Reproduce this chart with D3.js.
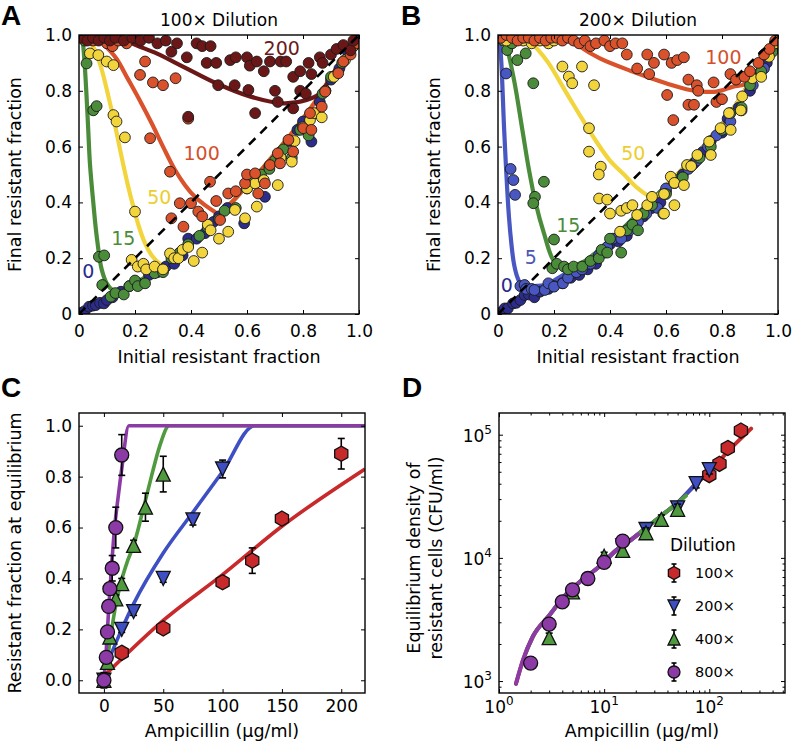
<!DOCTYPE html>
<html><head><meta charset="utf-8">
<script src="https://cdn.jsdelivr.net/npm/d3@7"></script>
<style>body{margin:0;background:#fff}svg{display:block}</style>
</head><body>
<svg id="c" width="793" height="745"></svg>
<script>
// ---------------- DATA ----------------
// Panels A/B ticks
const abTicks=[0,0.2,0.4,0.6,0.8,1.0];
const abTickLabels=["0","0.2","0.4","0.6","0.8","1.0"];
const diag=[[0,0],[1,1]];

// Panel A (100x dilution) scatter: [initial, final]
const aS0=[[0.01,0.005],[0.02,0.01],[0.036,0.026],[0.05,0.03],[0.06,0.032],[0.075,0.04],[0.089,0.038],[0.1,0.05],[0.12,0.06],[0.15,0.08],[0.18,0.1],[0.21,0.11],[0.25,0.14],[0.28,0.15],[0.31,0.17],[0.34,0.18],[0.37,0.21],[0.39,0.27],[0.42,0.27],[0.45,0.29],[0.48,0.33],[0.5,0.35],[0.53,0.38],[0.59,0.325],[0.6,0.47],[0.63,0.49],[0.664,0.42],[0.68,0.53],[0.72,0.58],[0.75,0.62],[0.78,0.66],[0.8,0.69],[0.83,0.618],[0.86,0.76],[0.88,0.8],[0.9,0.84],[0.93,0.88],[0.96,0.94],[0.99,0.98]];
const aS15=[[0.01,0.99],[0.02,0.98],[0.027,0.898],[0.051,0.73],[0.063,0.745],[0.071,0.205],[0.09,0.21],[0.083,0.104],[0.113,0.062],[0.13,0.075],[0.16,0.07],[0.18,0.1],[0.2,0.12],[0.21,0.1],[0.236,0.11],[0.27,0.146],[0.3,0.15],[0.33,0.2],[0.36,0.22],[0.39,0.25],[0.43,0.28],[0.46,0.31],[0.5,0.34],[0.52,0.37],[0.56,0.38],[0.6,0.45],[0.62,0.47],[0.65,0.5],[0.68,0.52],[0.7,0.55],[0.73,0.59],[0.76,0.56],[0.79,0.66],[0.82,0.64],[0.85,0.72],[0.87,0.79],[0.9,0.85],[0.94,0.9],[0.98,0.96]];
const aS50=[[0.02,0.99],[0.039,0.934],[0.069,0.928],[0.099,0.905],[0.123,0.892],[0.123,0.713],[0.134,0.69],[0.164,0.633],[0.2,0.367],[0.188,0.194],[0.21,0.17],[0.23,0.18],[0.24,0.16],[0.27,0.17],[0.3,0.16],[0.325,0.217],[0.34,0.2],[0.355,0.2],[0.37,0.23],[0.39,0.24],[0.41,0.19],[0.44,0.22],[0.46,0.32],[0.47,0.3],[0.5,0.27],[0.533,0.295],[0.557,0.373],[0.593,0.343],[0.6,0.45],[0.629,0.468],[0.635,0.385],[0.66,0.48],[0.71,0.462],[0.72,0.56],[0.76,0.546],[0.77,0.62],[0.8,0.67],[0.825,0.695],[0.84,0.72],[0.867,0.705],[0.88,0.8],[0.91,0.85],[0.95,0.91],[0.98,0.96]];
const aS100=[[0.01,1.0],[0.03,0.99],[0.05,0.98],[0.08,0.99],[0.1,0.97],[0.12,0.96],[0.14,0.98],[0.17,0.97],[0.2,0.99],[0.218,0.857],[0.236,0.905],[0.264,0.83],[0.3,0.82],[0.345,0.845],[0.39,0.7],[0.254,0.63],[0.325,0.51],[0.36,0.397],[0.4,0.397],[0.33,0.343],[0.373,0.313],[0.426,0.367],[0.44,0.35],[0.468,0.474],[0.49,0.405],[0.504,0.337],[0.533,0.432],[0.56,0.44],[0.593,0.468],[0.6,0.5],[0.629,0.504],[0.64,0.432],[0.664,0.468],[0.682,0.534],[0.71,0.576],[0.718,0.54],[0.748,0.624],[0.765,0.582],[0.801,0.666],[0.83,0.66],[0.825,0.72],[0.867,0.743],[0.879,0.797],[0.926,0.863],[0.944,0.905],[0.968,0.946],[0.97,0.93],[0.99,0.97]];
const aS200=[[0.01,0.99],[0.03,0.98],[0.05,0.99],[0.07,0.98],[0.09,0.99],[0.11,0.98],[0.13,0.99],[0.16,0.98],[0.19,0.99],[0.22,0.98],[0.25,0.99],[0.28,0.97],[0.31,0.98],[0.33,0.94],[0.35,0.97],[0.385,0.92],[0.39,0.707],[0.42,0.97],[0.44,0.96],[0.456,0.9],[0.47,0.96],[0.49,0.9],[0.497,0.82],[0.54,0.91],[0.556,0.82],[0.56,0.92],[0.6,0.92],[0.605,0.803],[0.61,0.89],[0.629,0.72],[0.635,0.905],[0.66,0.87],[0.682,0.905],[0.7,0.8],[0.71,0.76],[0.72,0.905],[0.74,0.905],[0.765,0.737],[0.765,0.85],[0.79,0.8],[0.79,0.87],[0.81,0.79],[0.82,0.9],[0.83,0.86],[0.86,0.92],[0.87,0.9],[0.9,0.93],[0.92,0.95],[0.944,0.964],[0.97,0.945],[0.98,0.98]];
// Panel A fitted curves
const aTail=[[0.15,0.08],[0.2,0.11],[0.25,0.14],[0.3,0.175],[0.35,0.215],[0.4,0.26],[0.45,0.305],[0.5,0.355],[0.55,0.405],[0.6,0.46],[0.65,0.515],[0.7,0.575],[0.75,0.635],[0.8,0.7],[0.85,0.77],[0.9,0.85],[0.95,0.925],[1,1]];
const aC15=[[0.012,1],[0.02,0.9],[0.027,0.78],[0.033,0.66],[0.039,0.54],[0.051,0.4],[0.063,0.28],[0.081,0.16],[0.099,0.11],[0.12,0.085],[0.14,0.08]];
const aC50=[[0.025,1],[0.057,0.946],[0.08,0.88],[0.105,0.78],[0.13,0.67],[0.152,0.564],[0.175,0.46],[0.194,0.385],[0.215,0.31],[0.236,0.253],[0.26,0.21],[0.289,0.18]];
const aC100=[[0.07,0.99],[0.1,0.955],[0.134,0.915],[0.176,0.84],[0.22,0.76],[0.26,0.683],[0.3,0.6],[0.343,0.516],[0.38,0.46],[0.414,0.42],[0.45,0.39],[0.486,0.365]];
const aC200=[[0.15,0.995],[0.19,0.97],[0.277,0.934],[0.373,0.886],[0.49,0.827],[0.61,0.78],[0.73,0.755],[0.813,0.767],[0.86,0.79],[0.88,0.815]];
const aLabelText=["0","15","50","100","200"];
const aLabelAt=[[0.033,0.152],[0.158,0.271],[0.287,0.42],[0.438,0.576],[0.724,0.952]];

// Panel B (200x dilution)
const bS0=[[0.01,0.005],[0.024,0.02],[0.035,0.02],[0.054,0.038],[0.065,0.04],[0.08,0.05],[0.095,0.068],[0.11,0.07],[0.13,0.06],[0.15,0.08],[0.18,0.09],[0.2,0.1],[0.23,0.11],[0.26,0.13],[0.29,0.14],[0.32,0.16],[0.35,0.18],[0.38,0.22],[0.4,0.25],[0.43,0.26],[0.46,0.28],[0.49,0.32],[0.52,0.35],[0.55,0.38],[0.58,0.4],[0.6,0.44],[0.63,0.47],[0.66,0.5],[0.7,0.54],[0.73,0.58],[0.76,0.62],[0.8,0.65],[0.82,0.7],[0.86,0.74],[0.9,0.8],[0.93,0.86],[0.96,0.9],[0.99,0.97]];
const bS5=[[0.01,0.99],[0.02,0.98],[0.029,0.862],[0.045,0.52],[0.055,0.48],[0.061,0.427],[0.08,0.1],[0.095,0.104],[0.1,0.09],[0.12,0.09],[0.13,0.086],[0.167,0.086],[0.18,0.11],[0.2,0.098],[0.232,0.11],[0.25,0.13],[0.28,0.15],[0.3,0.16],[0.33,0.18],[0.36,0.21],[0.39,0.24],[0.41,0.27],[0.44,0.27],[0.47,0.3],[0.5,0.33],[0.53,0.36],[0.57,0.38],[0.6,0.45],[0.64,0.48],[0.68,0.52],[0.71,0.55],[0.75,0.6],[0.78,0.64],[0.83,0.69],[0.87,0.73],[0.91,0.82],[0.95,0.88],[0.98,0.95]];
const bS15=[[0.01,0.99],[0.02,0.98],[0.033,0.946],[0.05,0.97],[0.069,0.91],[0.099,0.934],[0.126,0.827],[0.164,0.474],[0.132,0.42],[0.126,0.397],[0.2,0.267],[0.194,0.164],[0.21,0.18],[0.236,0.17],[0.25,0.16],[0.27,0.17],[0.301,0.17],[0.33,0.19],[0.36,0.2],[0.37,0.23],[0.4,0.27],[0.39,0.22],[0.44,0.22],[0.46,0.3],[0.48,0.32],[0.5,0.3],[0.52,0.36],[0.55,0.39],[0.59,0.36],[0.6,0.43],[0.63,0.47],[0.66,0.49],[0.69,0.53],[0.72,0.56],[0.76,0.6],[0.8,0.66],[0.83,0.72],[0.87,0.74],[0.9,0.82],[0.94,0.87],[0.98,0.94]];
const bS50=[[0.03,0.98],[0.06,0.99],[0.09,0.98],[0.12,0.97],[0.15,0.98],[0.18,0.97],[0.2,0.98],[0.23,0.887],[0.253,0.851],[0.265,0.827],[0.3,0.887],[0.343,0.82],[0.325,0.666],[0.325,0.582],[0.367,0.528],[0.36,0.5],[0.361,0.414],[0.39,0.41],[0.4,0.36],[0.436,0.295],[0.44,0.37],[0.46,0.38],[0.48,0.39],[0.497,0.355],[0.533,0.39],[0.55,0.42],[0.593,0.36],[0.593,0.43],[0.617,0.492],[0.63,0.47],[0.63,0.39],[0.664,0.462],[0.675,0.534],[0.69,0.53],[0.712,0.57],[0.754,0.618],[0.76,0.57],[0.795,0.666],[0.831,0.66],[0.825,0.72],[0.867,0.73],[0.872,0.78],[0.908,0.845],[0.94,0.85],[0.968,0.922],[0.99,0.97]];
const bS100=[[0.01,0.99],[0.03,1.0],[0.05,0.99],[0.07,0.98],[0.09,0.99],[0.11,0.99],[0.13,0.98],[0.15,0.99],[0.17,0.98],[0.19,0.99],[0.21,0.99],[0.23,0.98],[0.25,0.99],[0.27,0.98],[0.29,0.97],[0.31,0.98],[0.33,0.96],[0.35,0.97],[0.38,0.98],[0.4,0.96],[0.42,0.97],[0.444,0.97],[0.46,0.93],[0.497,0.88],[0.533,0.93],[0.54,0.86],[0.557,0.9],[0.593,0.93],[0.604,0.785],[0.62,0.9],[0.626,0.695],[0.64,0.91],[0.664,0.92],[0.68,0.84],[0.68,0.75],[0.7,0.75],[0.71,0.82],[0.715,0.8],[0.77,0.83],[0.78,0.76],[0.8,0.77],[0.83,0.86],[0.85,0.84],[0.88,0.85],[0.9,0.87],[0.93,0.9],[0.95,0.93],[0.97,0.95],[0.99,0.98]];
const bTail=[[0.25,0.15],[0.3,0.18],[0.35,0.22],[0.4,0.265],[0.45,0.31],[0.5,0.36],[0.55,0.41],[0.6,0.46],[0.65,0.51],[0.7,0.56],[0.75,0.62],[0.8,0.68],[0.85,0.75],[0.9,0.83],[0.95,0.91],[1,1]];
const bC5=[[0.005,1],[0.012,0.9],[0.022,0.66],[0.03,0.5],[0.039,0.35],[0.048,0.25],[0.057,0.18],[0.07,0.13],[0.087,0.1],[0.12,0.1],[0.17,0.105],[0.2,0.12]];
const bC15=[[0.01,1],[0.027,0.97],[0.057,0.84],[0.087,0.66],[0.11,0.52],[0.134,0.4],[0.164,0.29],[0.2,0.19],[0.23,0.175],[0.27,0.175],[0.31,0.19],[0.35,0.22]];
const bC50=[[0.1,0.99],[0.14,0.95],[0.18,0.9],[0.24,0.8],[0.3,0.7],[0.35,0.62],[0.4,0.55],[0.45,0.5],[0.5,0.45],[0.55,0.42],[0.58,0.43]];
const bC100=[[0.25,0.995],[0.29,0.96],[0.364,0.916],[0.483,0.868],[0.6,0.827],[0.686,0.803],[0.78,0.797],[0.84,0.815],[0.87,0.82]];
const bLabelText=["0","5","15","50","100"];
const bLabelAt=[[0.031,0.104],[0.117,0.203],[0.251,0.32],[0.483,0.576],[0.805,0.92]];

// Panel C: resistant fraction at equilibrium vs ampicillin
const cXTicks=[0,50,100,150,200];
const cYTicks=[0,0.2,0.4,0.6,0.8,1.0];
const cYTickLabels=["0.0","0.2","0.4","0.6","0.8","1.0"];
const cRedX=[15,50,100,125,150,200], cRedY=[0.108,0.204,0.385,0.47,0.635,0.89], cRedE=[0.012,0.012,0.015,0.05,0.015,0.06];
const cBlueX=[0,15,25,50,75,100], cBlueY=[0,0.2,0.27,0.4,0.63,0.83], cBlueE=[0.01,0.012,0.015,0.015,0.02,0.035];
const cGreenX=[0,3,5,10,15,25,35,50], cGreenY=[0,0.07,0.17,0.32,0.38,0.53,0.68,0.81], cGreenE=[0.02,0.01,0.015,0.015,0.02,0.02,0.055,0.07];
const cPurpX=[0,2,3,4,5,7,10,15], cPurpY=[0,0.09,0.19,0.29,0.36,0.44,0.6,0.885], cPurpE=[0.03,0.01,0.012,0.015,0.015,0.05,0.08,0.08];
const cLineRed=[[2,0.025],[50,0.235],[100,0.415],[150,0.605],[220,0.83]];
const cLineBlue=[[4,0.08],[15,0.2],[25,0.3],[50,0.5],[75,0.66],[100,0.82],[127,1.0],[220,1.0]];
const cLineGreen=[[2,0.05],[5,0.15],[9,0.27],[13,0.36],[20,0.47],[25,0.53],[33,0.67],[40,0.8],[47,0.92],[55,1],[220,1]];
const cLinePurp=[[0,0],[2,0.12],[4,0.28],[6,0.42],[9,0.6],[12,0.72],[15,0.83],[21,1],[220,1]];

// Panel D: equilibrium density of resistant cells (log-log)
const dRedX=[100,125,150,200], dRedY=[47000,58000,78000,108000], dRedE=[3000,4500,5000,7000];
const dBlueX=[15,25,50,75,100], dBlueY=[12500,17000,25500,40000,52000], dBlueE=[1000,1500,2000,3000,4000];
const dGreenX=[3,5,10,15,25,35,50], dGreenY=[2250,5300,10300,11500,16000,20500,24800], dGreenE=[200,400,800,1000,1500,1800,2500];
const dPurpX=[2,3,4,5,7,10,15], dPurpY=[1400,2900,4400,5500,6800,9200,13700], dPurpE=[100,200,300,400,500,700,1100];
const dLineRed=[[1.45,950],[1.7,1500],[2.1,2300],[3,3400],[4.3,5000],[6,6500],[9,8500],[13,11500],[18,14000],[25,17500],[35,22000],[50,28000],[75,40000],[100,50000],[150,73000],[250,112000]];
const dLineBlue=[[3,3400],[4.3,5000],[6,6500],[9,8500],[13,11500],[18,14000],[25,17500],[35,22000],[50,28000],[75,40000],[100,50000],[125,60000]];
const dLineGreen=[[1.8,1700],[2.1,2300],[3,3400],[4.3,5000],[6,6500],[9,8500],[13,11500],[18,14000],[25,17500],[35,22000],[50,28000],[60,32000]];
const dLinePurp=[[1.45,950],[1.7,1500],[2.1,2300],[3,3400],[4.3,5000],[6,6500],[9,8500],[13,11500],[18,14000],[21,15500]];
const dMajorX=[1,10,100], dExpX=["0","1","2"];
const dMinorX=[2,3,4,5,6,7,8,9,20,30,40,50,60,70,80,90,200,300,400,500];
const dMajorY=[1e3,1e4,1e5], dExpY=["3","4","5"];
const dMinorY=[900,2000,3000,4000,5000,6000,7000,8000,9000,20000,30000,40000,50000,60000,70000,80000,90000];
const legendNames=["100×","200×","400×","800×"];

// ---------------- DRAWING ----------------
const svg=d3.select("#c");
const FONT="DejaVu Sans";
const TICKFS=17, LABFS=17.5;
const col={navy:"#2c2c8c",blue5:"#4857c2",green:"#4b8c3b",yellow:"#f2d53c",orange:"#d9522b",dark:"#6c1717"};
const cc={red:"#c8292b",blue:"#3d4fc3",green:"#4f9a3f",purple:"#8b3aa6"};

function clip(box,id){
  svg.append("clipPath").attr("id",id).append("rect")
    .attr("x",box.x0).attr("y",box.y0).attr("width",box.x1-box.x0).attr("height",box.y1-box.y0);
  return svg.append("g").attr("clip-path",`url(#${id})`);
}
function styleAxis(g){
  g.select(".domain").remove();
  g.attr("font-family",FONT).attr("font-size",TICKFS);
  g.selectAll("line").attr("stroke","#000").attr("stroke-width",1);
  g.selectAll("text").attr("fill","#000");
}
function axes(box,x,y,xt,xl,yt,yl,xpad,ypad){
  styleAxis(svg.append("g").attr("transform",`translate(0,${box.y1})`)
    .call(d3.axisBottom(x).tickValues(xt).tickFormat(xl?((d,i)=>xl[i]):"").tickSize(-4).tickPadding(xpad)));
  styleAxis(svg.append("g").attr("transform",`translate(0,${box.y0})`)
    .call(d3.axisTop(x).tickValues(xt).tickFormat("").tickSize(-4)));
  styleAxis(svg.append("g").attr("transform",`translate(${box.x0},0)`)
    .call(d3.axisLeft(y).tickValues(yt).tickFormat(yl?((d,i)=>yl[i]):"").tickSize(-4).tickPadding(ypad)));
  styleAxis(svg.append("g").attr("transform",`translate(${box.x1},0)`)
    .call(d3.axisRight(y).tickValues(yt).tickFormat("").tickSize(-4)));
}
function frame(box){
  svg.append("rect").attr("x",box.x0).attr("y",box.y0).attr("width",box.x1-box.x0).attr("height",box.y1-box.y0)
    .attr("fill","none").attr("stroke","#000").attr("stroke-width",1.4);
}
function txt(x,y,s,opt={}){
  const t=svg.append("text").attr("x",x).attr("y",y).text(s)
    .attr("font-family",opt.family||FONT).attr("font-size",opt.size||LABFS)
    .attr("text-anchor",opt.anchor||"middle").attr("fill",opt.fill||"#000");
  if(opt.weight) t.attr("font-weight",opt.weight);
  if(opt.rot) t.attr("x",null).attr("y",null).attr("transform",`translate(${x},${y}) rotate(-90)`);
  if(opt.dy) t.attr("dy",opt.dy);
  return t;
}

function scatterPanel(id,box,title,curves,series,labels){
  const x=d3.scaleLinear().domain([0,1]).range([box.x0,box.x1]);
  const y=d3.scaleLinear().domain([0,1]).range([box.y1,box.y0]);
  const g=clip(box,id);
  const line=d3.line().x(d=>x(d[0])).y(d=>y(d[1])).curve(d3.curveCatmullRom.alpha(0.5));
  curves.forEach(c=>g.append("path").attr("d",line(c.pts)).attr("fill","none")
    .attr("stroke",c.color).attr("stroke-width",4.2).attr("stroke-linecap","round").attr("stroke-linejoin","round"));
  series.forEach(s=>g.append("g").selectAll("circle").data(s.pts).join("circle")
    .attr("cx",d=>x(d[0])).attr("cy",d=>y(d[1])).attr("r",5.4)
    .attr("fill",s.color).attr("stroke","#1a1a1a").attr("stroke-width",0.9));
  g.append("path").attr("d",d3.line().x(d=>x(d[0])).y(d=>y(d[1]))(diag))
    .attr("stroke","#000").attr("stroke-width",2.6).attr("stroke-dasharray","9,7").attr("fill","none");
  labels.forEach(l=>txt(x(l.at[0]),y(l.at[1]),l.text,{size:19,fill:l.color,dy:"0.36em"}));
  frame(box);
  axes(box,x,y,abTicks,abTickLabels,abTicks,abTickLabels,11,7);
  txt((box.x0+box.x1)/2,26,title,{size:17});
  txt((box.x0+box.x1)/2,363,"Initial resistant fraction");
  txt(box.x0-58,(box.y0+box.y1)/2,"Final resistant fraction",{rot:true});
}

const boxA={x0:79,x1:359,y0:35,y1:314};
const boxB={x0:498,x1:778,y0:35,y1:314};
const boxC={x0:79,x1:365,y0:413,y1:693};
const boxD={x0:499,x1:785,y0:413,y1:693};

scatterPanel("clA",boxA,"100× Dilution",
  [{pts:aC15.concat(aTail.filter(d=>d[0]>=0.15)),color:col.green},
   {pts:aC50.concat(aTail.filter(d=>d[0]>=0.3)),color:col.yellow},
   {pts:aC100.concat(aTail.filter(d=>d[0]>=0.5)),color:col.orange},
   {pts:aC200.concat(aTail.filter(d=>d[0]>=0.9)),color:col.dark}],
  [{pts:aS0,color:col.navy},{pts:aS15,color:col.green},{pts:aS50,color:col.yellow},{pts:aS100,color:col.orange},{pts:aS200,color:col.dark}],
  aLabelText.map((t,i)=>({text:t,at:aLabelAt[i],color:[ "#2a2a8a",col.green,"#ecce2e","#d4502c","#6b1a1a"][i]})));

scatterPanel("clB",boxB,"200× Dilution",
  [{pts:bC5.concat(bTail),color:col.blue5},
   {pts:bC15.concat(bTail.filter(d=>d[0]>=0.4)),color:col.green},
   {pts:bC50.concat(bTail.filter(d=>d[0]>=0.6)),color:col.yellow},
   {pts:bC100.concat(bTail.filter(d=>d[0]>=0.9)),color:col.orange}],
  [{pts:bS0,color:col.navy},{pts:bS5,color:col.blue5},{pts:bS15,color:col.green},{pts:bS50,color:col.yellow},{pts:bS100,color:col.orange}],
  bLabelText.map((t,i)=>({text:t,at:bLabelAt[i],color:["#2a2a8a","#4a55b5",col.green,"#ecce2e","#d4502c"][i]})));

// marker shapes
function shapePath(shape,r){
  if(shape==="hex"){
    const p=d3.range(6).map(i=>{const a=(-90+60*i)*Math.PI/180;return [r*Math.cos(a),r*Math.sin(a)];});
    return "M"+p.map(q=>q.join(",")).join("L")+"Z";
  }
  if(shape==="tri") return `M0,${-r}L${r},${r}L${-r},${r}Z`;
  if(shape==="tridown") return `M0,${r}L${r},${-r}L${-r},${-r}Z`;
  return `M${-r},0a${r},${r} 0 1,0 ${2*r},0a${r},${r} 0 1,0 ${-2*r},0Z`;
}
function errMarkers(g,xs,ys,es,x,y,shape,color,r,cap){
  const pts=xs.map((v,i)=>({x:v,y:ys[i],e:es[i]}));
  const eg=g.append("g").attr("stroke","#000").attr("stroke-width",1.6);
  pts.forEach(p=>{
    const X=x(p.x),Y0=y(p.y-p.e),Y1=y(p.y+p.e);
    eg.append("line").attr("x1",X).attr("x2",X).attr("y1",Y0).attr("y2",Y1);
    eg.append("line").attr("x1",X-cap).attr("x2",X+cap).attr("y1",Y0).attr("y2",Y0);
    eg.append("line").attr("x1",X-cap).attr("x2",X+cap).attr("y1",Y1).attr("y2",Y1);
  });
  g.append("g").selectAll("path").data(pts).join("path")
    .attr("d",shapePath(shape,r)).attr("transform",p=>`translate(${x(p.x)},${y(p.y)})`)
    .attr("fill",color).attr("stroke","#111").attr("stroke-width",1.3);
}

// ---- Panel C ----
(function(){
  const x=d3.scaleLinear().domain([-21,220]).range([boxC.x0,boxC.x1]);
  const y=d3.scaleLinear().domain([-0.05,1.05]).range([boxC.y1,boxC.y0]);
  const g=clip(boxC,"clC");
  const line=d3.line().x(d=>x(d[0])).y(d=>y(d[1])).curve(d3.curveMonotoneX);
  [[cLineRed,cc.red],[cLineBlue,cc.blue],[cLineGreen,cc.green],[cLinePurp,cc.purple]].forEach(([p,c])=>
    g.append("path").attr("d",line(p)).attr("fill","none").attr("stroke",c).attr("stroke-width",3.6));
  errMarkers(g,cRedX,cRedY,cRedE,x,y,"hex",cc.red,7.6,3.5);
  errMarkers(g,cBlueX,cBlueY,cBlueE,x,y,"tridown",cc.blue,7,3.5);
  errMarkers(g,cGreenX,cGreenY,cGreenE,x,y,"tri",cc.green,7,3.5);
  errMarkers(g,cPurpX,cPurpY,cPurpE,x,y,"circle",cc.purple,7,3.5);
  frame(boxC);
  axes(boxC,x,y,cXTicks,cXTicks.map(String),cYTicks,cYTickLabels,7,7);
  txt((boxC.x0+boxC.x1)/2,737,"Ampicillin (μg/ml)");
  txt(21,(boxC.y0+boxC.y1)/2,"Resistant fraction at equilibrium",{rot:true});
})();

// ---- Panel D ----
(function(){
  const x=d3.scaleLog().domain([1,525]).range([boxD.x0,boxD.x1]);
  const y=d3.scaleLog().domain([800,1.5e5]).range([boxD.y1,boxD.y0]);
  const g=clip(boxD,"clD");
  const line=d3.line().x(d=>x(d[0])).y(d=>y(d[1])).curve(d3.curveMonotoneX);
  [[dLineRed,cc.red],[dLineBlue,cc.blue],[dLineGreen,cc.green],[dLinePurp,cc.purple]].forEach(([p,c])=>
    g.append("path").attr("d",line(p)).attr("fill","none").attr("stroke",c).attr("stroke-width",4).attr("stroke-linecap","round"));
  errMarkers(g,dRedX,dRedY,dRedE,x,y,"hex",cc.red,7.6,3.5);
  errMarkers(g,dBlueX,dBlueY,dBlueE,x,y,"tridown",cc.blue,7,3.5);
  errMarkers(g,dGreenX,dGreenY,dGreenE,x,y,"tri",cc.green,7,3.5);
  errMarkers(g,dPurpX,dPurpY,dPurpE,x,y,"circle",cc.purple,7,3.5);
  frame(boxD);
  axes(boxD,x,y,dMajorX,null,dMajorY,null,10,7);
  // minor ticks
  [[d3.axisBottom,boxD.y1,dMinorX,x,"t"],[d3.axisTop,boxD.y0,dMinorX,x,"t"],[d3.axisLeft,boxD.x0,dMinorY,y,"l"],[d3.axisRight,boxD.x1,dMinorY,y,"l"]]
    .forEach(([ax,pos,vals,sc,k])=>{
      const gg=svg.append("g").attr("transform",k==="t"?`translate(0,${pos})`:`translate(${pos},0)`)
        .call(ax(sc).tickValues(vals).tickFormat("").tickSize(-2.5));
      styleAxis(gg);
    });
  // tick labels with superscripts
  dMajorX.forEach((v,i)=>{
    const t=svg.append("text").attr("x",x(v)).attr("y",713).attr("text-anchor","middle")
      .attr("font-family",FONT).attr("font-size",TICKFS);
    t.append("tspan").text("10");
    t.append("tspan").attr("dy",-8).attr("font-size",12).text(dExpX[i]);
  });
  dMajorY.forEach((v,i)=>{
    const t=svg.append("text").attr("x",boxD.x0-7).attr("y",y(v)+7).attr("text-anchor","end")
      .attr("font-family",FONT).attr("font-size",TICKFS);
    t.append("tspan").text("10");
    t.append("tspan").attr("dy",-8).attr("font-size",12).text(dExpY[i]);
  });
  txt((boxD.x0+boxD.x1)/2,737,"Ampicillin (μg/ml)");
  txt(420,558,"Equilibrium density of",{rot:true});
  txt(442,558,"resistant cells (CFU/ml)",{rot:true});
  // legend
  txt(670,551,"Dilution",{anchor:"start",size:17});
  const shapes=["hex","tridown","tri","circle"], cols=[cc.red,cc.blue,cc.green,cc.purple];
  legendNames.forEach((n,i)=>{
    const cy=573+i*33, cx=674;
    svg.append("line").attr("x1",cx).attr("x2",cx).attr("y1",cy-9).attr("y2",cy+9).attr("stroke","#000").attr("stroke-width",1.6);
    svg.append("line").attr("x1",cx-2.5).attr("x2",cx+2.5).attr("y1",cy-9).attr("y2",cy-9).attr("stroke","#000").attr("stroke-width",1.6);
    svg.append("line").attr("x1",cx-2.5).attr("x2",cx+2.5).attr("y1",cy+9).attr("y2",cy+9).attr("stroke","#000").attr("stroke-width",1.6);
    svg.append("path").attr("d",shapePath(shapes[i],i===0?6.5:6)).attr("transform",`translate(${cx},${cy})`)
      .attr("fill",cols[i]).attr("stroke","#111").attr("stroke-width",1.3);
    txt(695,cy,n,{anchor:"start",size:14.5,dy:"0.36em"});
  });
})();

// panel letters
[["A",1,25],["B",401,25],["C",1,397],["D",402,397]].forEach(([s,x,y])=>
  txt(x,y,s,{anchor:"start",size:28,weight:"bold",family:"Liberation Sans"}));
</script>
</body></html>
